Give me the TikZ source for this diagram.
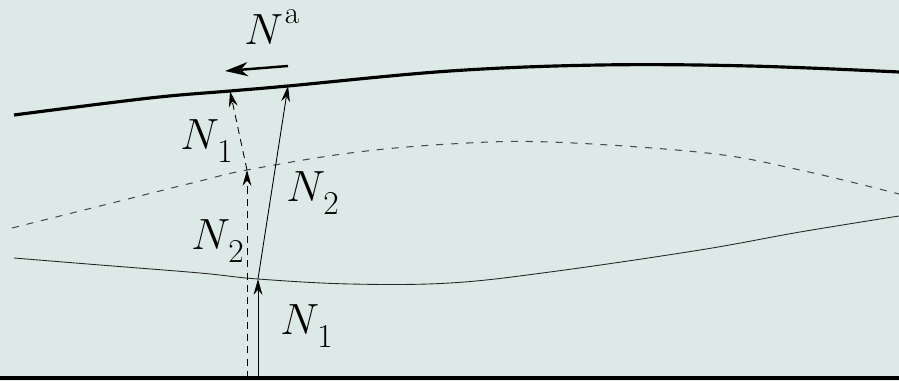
\documentclass[tikz,border=0pt]{standalone}
\usetikzlibrary{arrows.meta}
\definecolor{bg}{RGB}{221,233,231}
\definecolor{dashgrey}{RGB}{70,75,75}
\newcommand{\NNsub}[1]{$N$\kern-1pt\raisebox{-7pt}{\fontsize{19}{22}\selectfont #1}}
\newcommand{\NNsup}[1]{$N$\kern1pt\raisebox{12pt}{\fontsize{18}{22}\selectfont #1}}
\begin{document}
\begin{tikzpicture}[x=0.02cm,y=-0.02cm,
  lbl/.style={font=\fontsize{25}{30}\selectfont, inner sep=0pt, anchor=base west},
  thickline/.style={line width=1.8pt, black},
  thinline/.style={line width=0.5pt, black!85},
  dashline/.style={line width=0.6pt, dashgrey, dash pattern=on 4pt off 4.5pt},
  thinarrow/.style={line width=0.5pt, -{Stealth[length=9pt,width=5pt]}},
  bigarrow/.style={line width=1.4pt, -{Stealth[length=13pt,width=8pt,inset=4pt]}}]
\fill[bg] (0,0) rectangle (899,381);
\useasboundingbox (0,0) rectangle (899,381);
% key points
\coordinate (b0) at (247,378);
\coordinate (b1) at (258,378);
\coordinate (tA) at (230,91);
\coordinate (tB) at (288,86);
\coordinate (dA) at (247,170);
\coordinate (sA) at (258,279);
\coordinate (naT) at (288,66);
\coordinate (naH) at (225,71);
% bottom line
\draw[thickline] (0,378) -- (899,378);
% top thick curve
\draw[thickline] plot[smooth, tension=0.6] coordinates {(14,115) (150,98) (tA) (tB) (450,71) (600,65) (750,66) (899,72)};
% dashed curve
\draw[dashline] plot[smooth, tension=0.6] coordinates {(12,228) (100,206) (200,181) (dA) (350,153) (450,144) (550,142) (707,153) (800,170) (899,194)};
% thin solid curve
\draw[thinline] plot[smooth, tension=0.6] coordinates {(14,258) (100,265) (200,273) (sA) (350,284) (450,283) (550,272) (700,250) (800,232) (899,216)};
% arrows
\draw[thinarrow, dash pattern=on 4pt off 3pt] (b0) -- (dA);
\draw[thinarrow, dash pattern=on 4pt off 3pt] (dA) -- (tA);
\draw[thinarrow] (b1) -- (sA);
\draw[thinarrow] (sA) -- (tB);
\draw[bigarrow] (naT) -- (naH);
% labels
\node[lbl] (la) at (244,45) {\NNsup{a}};
\node[lbl] (l1) at (180,150) {\NNsub{1}};
\node[lbl] (l2) at (286,202) {\NNsub{2}};
\node[lbl] (l3) at (191,250) {\NNsub{2}};
\node[lbl] (l4) at (280,335) {\NNsub{1}};
\end{tikzpicture}
\end{document}
